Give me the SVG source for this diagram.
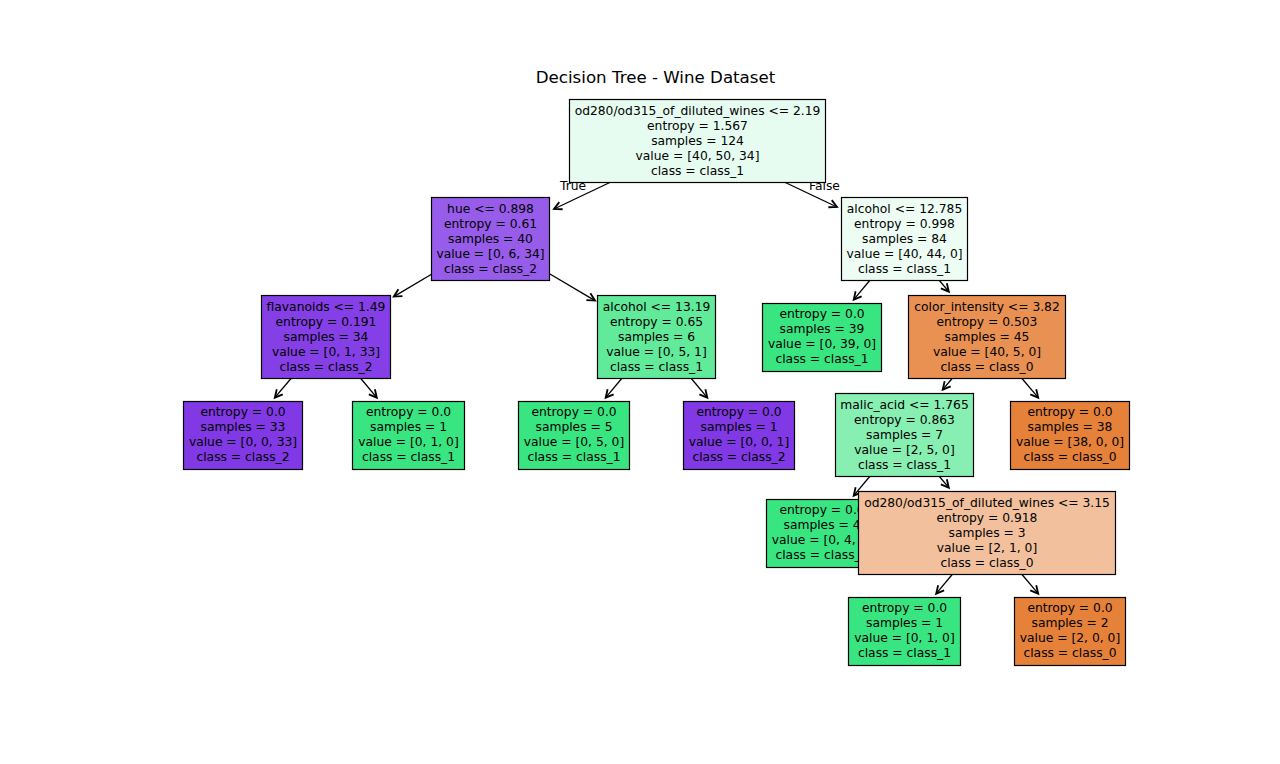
<svg xmlns="http://www.w3.org/2000/svg" width="1280" height="764" viewBox="0 0 1280 764">
<defs>
<style>
.box{stroke:#000;stroke-width:1.2}
.t{font-family:"DejaVu Sans",sans-serif;font-size:12.3px;text-anchor:middle;fill:#000}
.title{font-family:"DejaVu Sans",sans-serif;font-size:16.67px;text-anchor:middle;fill:#000}
.e{stroke:#000;stroke-width:1.3;fill:none;marker-end:url(#ah)}
.g{fill:#39e581}.o{fill:#e58139}.p{fill:#8139e5}
</style>
<marker id="ah" markerUnits="userSpaceOnUse" markerWidth="14" markerHeight="14" viewBox="-8 -5 10 10" refX="0" refY="0" orient="auto">
<path d="M-5.5,-2.8 L0,0 L-5.5,2.8" fill="none" stroke="#000" stroke-width="1.3"/>
</marker>
</defs>
<rect width="1280" height="764" fill="#fff"/>
<text class="title" x="655.5" y="82.7">Decision Tree - Wine Dataset</text>
<g id="connectors">
<line class="e" x1="609.8" y1="182.5" x2="554.0" y2="209.0"/>
<line class="e" x1="785.3" y1="182.5" x2="837.0" y2="207.0"/>
<line class="e" x1="431.5" y1="274.2" x2="393.8" y2="296.6"/>
<line class="e" x1="549.5" y1="273.8" x2="595.0" y2="300.6"/>
<line class="e" x1="291.0" y1="378.5" x2="274.8" y2="397.7"/>
<line class="e" x1="360.8" y1="378.5" x2="376.8" y2="397.7"/>
<line class="e" x1="621.7" y1="378.5" x2="605.7" y2="397.7"/>
<line class="e" x1="691.3" y1="378.5" x2="707.3" y2="397.7"/>
<line class="e" x1="869.7" y1="280.5" x2="853.7" y2="299.7"/>
<line class="e" x1="939.4" y1="280.5" x2="948.8" y2="291.7"/>
<line class="e" x1="952.1" y1="378.5" x2="942.7" y2="389.7"/>
<line class="e" x1="1022.0" y1="378.5" x2="1038.2" y2="397.7"/>
<line class="e" x1="869.7" y1="476.5" x2="853.7" y2="495.7"/>
<line class="e" x1="939.4" y1="476.5" x2="948.8" y2="487.7"/>
<line class="e" x1="952.2" y1="574.5" x2="936.2" y2="593.7"/>
<line class="e" x1="1022.0" y1="574.5" x2="1038.2" y2="593.7"/>
<text class="t" x="573" y="189.5">True</text>
<text class="t" x="824.5" y="189.5">False</text>
</g>
<g id="n0">
<rect class="box" x="569.5" y="99.5" width="256" height="83" fill="#e7fcf0"/>
<text class="t" x="697.5" y="115">od280/od315_of_diluted_wines &lt;= 2.19</text>
<text class="t" x="697.5" y="130">entropy = 1.567</text>
<text class="t" x="697.5" y="145">samples = 124</text>
<text class="t" x="697.5" y="160">value = [40, 50, 34]</text>
<text class="t" x="697.5" y="175">class = class_1</text>
</g>
<g id="n1">
<rect class="box" x="431.5" y="197.5" width="118" height="83" fill="#975ce9"/>
<text class="t" x="490.5" y="213">hue &lt;= 0.898</text>
<text class="t" x="490.5" y="228">entropy = 0.61</text>
<text class="t" x="490.5" y="243">samples = 40</text>
<text class="t" x="490.5" y="258">value = [0, 6, 34]</text>
<text class="t" x="490.5" y="273">class = class_2</text>
</g>
<g id="n2">
<rect class="box" x="261.5" y="295.5" width="129" height="83" fill="#853fe6"/>
<text class="t" x="326" y="311">flavanoids &lt;= 1.49</text>
<text class="t" x="326" y="326">entropy = 0.191</text>
<text class="t" x="326" y="341">samples = 34</text>
<text class="t" x="326" y="356">value = [0, 1, 33]</text>
<text class="t" x="326" y="371">class = class_2</text>
</g>
<g id="n3">
<rect class="box p" x="183.5" y="401.5" width="119" height="68"/>
<text class="t" x="243" y="416">entropy = 0.0</text>
<text class="t" x="243" y="431">samples = 33</text>
<text class="t" x="243" y="446">value = [0, 0, 33]</text>
<text class="t" x="243" y="461">class = class_2</text>
</g>
<g id="n4">
<rect class="box g" x="352.5" y="401.5" width="112" height="68"/>
<text class="t" x="408.5" y="416">entropy = 0.0</text>
<text class="t" x="408.5" y="431">samples = 1</text>
<text class="t" x="408.5" y="446">value = [0, 1, 0]</text>
<text class="t" x="408.5" y="461">class = class_1</text>
</g>
<g id="n5">
<rect class="box" x="597.5" y="295.5" width="118" height="83" fill="#61ea9a"/>
<text class="t" x="656.5" y="311">alcohol &lt;= 13.19</text>
<text class="t" x="656.5" y="326">entropy = 0.65</text>
<text class="t" x="656.5" y="341">samples = 6</text>
<text class="t" x="656.5" y="356">value = [0, 5, 1]</text>
<text class="t" x="656.5" y="371">class = class_1</text>
</g>
<g id="n6">
<rect class="box g" x="518.5" y="401.5" width="111" height="68"/>
<text class="t" x="574" y="416">entropy = 0.0</text>
<text class="t" x="574" y="431">samples = 5</text>
<text class="t" x="574" y="446">value = [0, 5, 0]</text>
<text class="t" x="574" y="461">class = class_1</text>
</g>
<g id="n7">
<rect class="box p" x="683.5" y="401.5" width="111" height="68"/>
<text class="t" x="739" y="416">entropy = 0.0</text>
<text class="t" x="739" y="431">samples = 1</text>
<text class="t" x="739" y="446">value = [0, 0, 1]</text>
<text class="t" x="739" y="461">class = class_2</text>
</g>
<g id="n8">
<rect class="box" x="841.5" y="197.5" width="126" height="83" fill="#edfdf4"/>
<text class="t" x="904.5" y="213">alcohol &lt;= 12.785</text>
<text class="t" x="904.5" y="228">entropy = 0.998</text>
<text class="t" x="904.5" y="243">samples = 84</text>
<text class="t" x="904.5" y="258">value = [40, 44, 0]</text>
<text class="t" x="904.5" y="273">class = class_1</text>
</g>
<g id="n9">
<rect class="box g" x="762.5" y="303.5" width="119" height="68"/>
<text class="t" x="822" y="318">entropy = 0.0</text>
<text class="t" x="822" y="333">samples = 39</text>
<text class="t" x="822" y="348">value = [0, 39, 0]</text>
<text class="t" x="822" y="363">class = class_1</text>
</g>
<g id="n10">
<rect class="box" x="908.5" y="295.5" width="157" height="83" fill="#e89152"/>
<text class="t" x="987" y="311">color_intensity &lt;= 3.82</text>
<text class="t" x="987" y="326">entropy = 0.503</text>
<text class="t" x="987" y="341">samples = 45</text>
<text class="t" x="987" y="356">value = [40, 5, 0]</text>
<text class="t" x="987" y="371">class = class_0</text>
</g>
<g id="n11">
<rect class="box" x="835.5" y="393.5" width="138" height="83" fill="#88efb3"/>
<text class="t" x="904.5" y="409">malic_acid &lt;= 1.765</text>
<text class="t" x="904.5" y="424">entropy = 0.863</text>
<text class="t" x="904.5" y="439">samples = 7</text>
<text class="t" x="904.5" y="454">value = [2, 5, 0]</text>
<text class="t" x="904.5" y="469">class = class_1</text>
</g>
<g id="n12">
<rect class="box o" x="1010.5" y="401.5" width="119" height="68"/>
<text class="t" x="1070" y="416">entropy = 0.0</text>
<text class="t" x="1070" y="431">samples = 38</text>
<text class="t" x="1070" y="446">value = [38, 0, 0]</text>
<text class="t" x="1070" y="461">class = class_0</text>
</g>
<g id="n13">
<rect class="box g" x="766.5" y="499.5" width="111" height="68"/>
<text class="t" x="822" y="514">entropy = 0.0</text>
<text class="t" x="822" y="529">samples = 4</text>
<text class="t" x="822" y="544">value = [0, 4, 0]</text>
<text class="t" x="822" y="559">class = class_1</text>
</g>
<g id="n14">
<rect class="box" x="858.5" y="491.5" width="257" height="83" fill="#f2c09c"/>
<text class="t" x="987" y="507">od280/od315_of_diluted_wines &lt;= 3.15</text>
<text class="t" x="987" y="522">entropy = 0.918</text>
<text class="t" x="987" y="537">samples = 3</text>
<text class="t" x="987" y="552">value = [2, 1, 0]</text>
<text class="t" x="987" y="567">class = class_0</text>
</g>
<g id="n15">
<rect class="box g" x="848.5" y="597.5" width="112" height="68"/>
<text class="t" x="904.5" y="612">entropy = 0.0</text>
<text class="t" x="904.5" y="627">samples = 1</text>
<text class="t" x="904.5" y="642">value = [0, 1, 0]</text>
<text class="t" x="904.5" y="657">class = class_1</text>
</g>
<g id="n16">
<rect class="box o" x="1014.5" y="597.5" width="111" height="68"/>
<text class="t" x="1070" y="612">entropy = 0.0</text>
<text class="t" x="1070" y="627">samples = 2</text>
<text class="t" x="1070" y="642">value = [2, 0, 0]</text>
<text class="t" x="1070" y="657">class = class_0</text>
</g>
</svg>
